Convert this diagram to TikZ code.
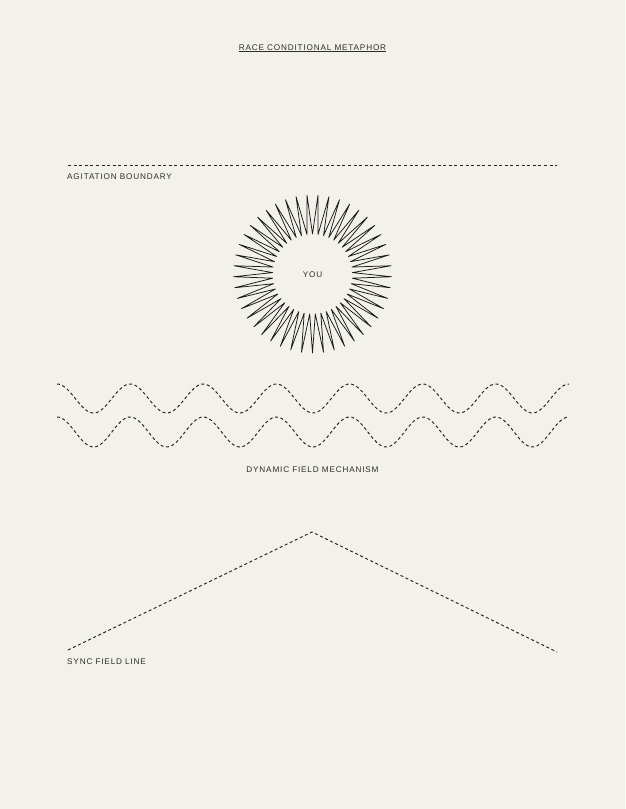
\documentclass[tikz,border=0pt]{standalone}
\usepackage{fontspec}
\setmainfont{Liberation Sans}[LetterSpace=10]
\usetikzlibrary{calc}
\definecolor{paper}{RGB}{242,241,234}
\definecolor{ink}{RGB}{45,45,45}
\definecolor{dashink}{RGB}{35,35,35}
\tikzset{
  lbl/.style={font=\fontsize{8.2}{9}\selectfont, text=ink, inner sep=0pt},
  dashline/.style={draw=dashink, line width=0.95pt, dash pattern=on 3pt off 2.6pt},
  sunline/.style={draw=black!90, line width=0.75pt, line join=round},
}
\begin{document}
\begin{tikzpicture}[x=1pt,y=-1pt]
\fill[paper] (0,0) rectangle (625,809);
\useasboundingbox (0,0) rectangle (625,809);

% title
\node[lbl, anchor=base] (title) at (312.5,50) {\underline{RACE CONDITIONAL METAPHOR}};

% agitation boundary
\coordinate (ab1) at (68,165);
\coordinate (ab2) at (557,165);
\draw[dashline] (ab1) -- (ab2);
\node[lbl, anchor=base west] (ablabel) at (67,179) {AGITATION BOUNDARY};

% sun
\coordinate (sun) at (312.5,274);
\begin{scope}[shift={(sun)}]
\draw[sunline] (90:79) \foreach \i in {1,...,89} { -- ({90+4*\i}:{79-39*mod(\i,2)}) } -- cycle;
\end{scope}
\node[lbl] (you) at (312.5,274.5) {YOU};

% waves
\draw[dashline] plot[domain=57:569, samples=260, smooth] (\x, {398.5-14.5*cos((\x-57)/73.143*360)});
\draw[dashline] plot[domain=57:569, samples=260, smooth] (\x, {432-15*cos((\x-57)/73.143*360)});
\node[lbl, anchor=base] (dfm) at (312.5,472) {DYNAMIC FIELD MECHANISM};

% sync field line
\coordinate (s1) at (68,650);
\coordinate (s2) at (312,532);
\coordinate (s3) at (557,652);
\draw[dashline] (s1) -- (s2) -- (s3);
\node[lbl, anchor=base west] (sfl) at (67,664) {SYNC FIELD LINE};
\end{tikzpicture}
\end{document}
